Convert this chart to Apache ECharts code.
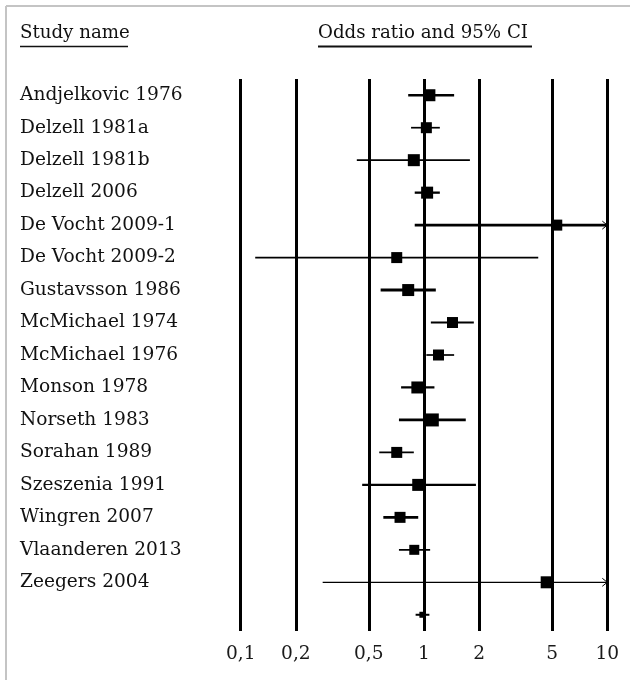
<!DOCTYPE html>
<html><head><meta charset="utf-8">
<script src="https://cdn.jsdelivr.net/npm/echarts@6/dist/echarts.min.js"></script>
<style>html,body{margin:0;padding:0;background:#fff}#c{width:630px;height:680px}</style>
</head><body><div id="c"></div>
<script>
// ---- data ----
const studies = ['Andjelkovic 1976','Delzell 1981a','Delzell 1981b','Delzell 2006','De Vocht 2009-1','De Vocht 2009-2','Gustavsson 1986','McMichael 1974','McMichael 1976','Monson 1978','Norseth 1983','Sorahan 1989','Szeszenia 1991','Wingren 2007','Vlaanderen 2013','Zeegers 2004',''];
const oddsRatio = [1.07,1.03,0.88,1.04,5.3,0.71,0.82,1.43,1.20,0.92,1.11,0.71,0.93,0.74,0.885,4.67,0.98];
const lowerCI   = [0.82,0.85,0.43,0.89,0.89,0.12,0.58,1.09,1.03,0.75,0.73,0.57,0.46,0.60,0.73,0.28,0.90];
const upperCI   = [1.46,1.22,1.78,1.22,31.6,4.2,1.16,1.87,1.46,1.14,1.69,0.88,1.92,0.93,1.08,78,1.07];
const tickValues = [0.1,0.2,0.5,1,2,5,10];
const tickLabels = ['0,1','0,2','0,5','1','2','5','10'];

// ---- styling (not data) ----
const whiskerWidths = [2.7,1.7,1.7,2.3,2.7,1.7,3,2,1.7,2.3,2.7,1.7,2.3,2.7,1.7,1.3,2];
const boxSizes = [12,11,12,12,11,11,12,11,11,12,13,11,12,11,10,12,6];
const FONT = 'DejaVu Serif';
const FS = 18.6;
const HFS = 18.2;
const AXMIN = 0.1, AXMAX = 10;

const seriesData = studies.map((s,i)=>[oddsRatio[i], s, lowerCI[i], upperCI[i]]);

const chart = echarts.init(document.getElementById('c'), null, {renderer:'canvas'});
chart.setOption({
  animation:false,
  backgroundColor:'#fff',
  grid:{left:240.7, right:22.7, top:79, bottom:49},
  xAxis:{
    type:'log', logBase:10, min:AXMIN, max:AXMAX,
    axisLine:{show:false}, axisTick:{show:false}, splitLine:{show:false},
    axisLabel:{
      customValues: tickValues,
      margin:14, fontFamily:FONT, fontSize:FS, color:'#1a1a1a',
      formatter:function(v){
        let best=0; for(let k=1;k<tickValues.length;k++){ if(Math.abs(Math.log10(tickValues[k])-Math.log10(v))<Math.abs(Math.log10(tickValues[best])-Math.log10(v))) best=k; }
        return tickLabels[best];
      }
    }
  },
  yAxis:{
    type:'category', data:studies, inverse:true,
    axisLine:{show:false}, axisTick:{show:false}, splitLine:{show:false},
    axisLabel:{align:'left', margin:220.7, fontFamily:FONT, fontSize:FS, color:'#111'}
  },
  graphic:[
    {type:'line', shape:{x1:6,y1:6,x2:630,y2:6}, style:{stroke:'#c4c4c4', lineWidth:2}},
    {type:'line', shape:{x1:6,y1:6,x2:6,y2:680}, style:{stroke:'#c4c4c4', lineWidth:2}},
    {type:'text', x:20, y:33, style:{text:'Study name', font:HFS+'px "DejaVu Serif"', fill:'#111', verticalAlign:'middle'}},
    {type:'line', shape:{x1:20,y1:46.5,x2:128,y2:46.5}, style:{stroke:'#111', lineWidth:1.5}},
    {type:'text', x:318, y:33, style:{text:'Odds ratio and 95% CI', font:HFS+'px "DejaVu Serif"', fill:'#111', verticalAlign:'middle'}},
    {type:'line', shape:{x1:318,y1:46.5,x2:532,y2:46.5}, style:{stroke:'#111', lineWidth:2}}
  ],
  series:[{
    type:'custom',
    encode:{x:0, y:1},
    clip:false,
    data:seriesData,
    renderItem:function(params, api){
      const i = params.dataIndex;
      const cat = api.value(1);
      const lo = Math.max(api.value(2), AXMIN), hi = Math.min(api.value(3), AXMAX);
      const pLo = api.coord([lo, cat]), pHi = api.coord([hi, cat]), pM = api.coord([api.value(0), cat]);
      const s = boxSizes[i];
      const children = [
        {type:'line', shape:{x1:pLo[0], y1:pLo[1], x2:pHi[0], y2:pHi[1]}, style:{stroke:'#000', lineWidth:whiskerWidths[i]}},
        {type:'rect', shape:{x:pM[0]-s/2, y:pM[1]-s/2, width:s, height:s}, style:{fill:'#000'}}
      ];
      if (api.value(3) > AXMAX) {
        children.push({type:'polyline', shape:{points:[[pHi[0]-5,pHi[1]-4],[pHi[0],pHi[1]],[pHi[0]-5,pHi[1]+4]]}, style:{stroke:'#000', lineWidth:1, fill:null}});
      }
      if (api.value(2) < AXMIN) {
        children.push({type:'polyline', shape:{points:[[pLo[0]+5,pLo[1]-4],[pLo[0],pLo[1]],[pLo[0]+5,pLo[1]+4]]}, style:{stroke:'#000', lineWidth:1, fill:null}});
      }
      return {type:'group', children:children};
    },
    markLine:{
      silent:true, symbol:['none','none'], label:{show:false},
      lineStyle:{color:'#000', width:3, type:'solid'},
      data: tickValues.map(v=>({xAxis:v}))
    }
  }]
});
</script>
</body></html>
